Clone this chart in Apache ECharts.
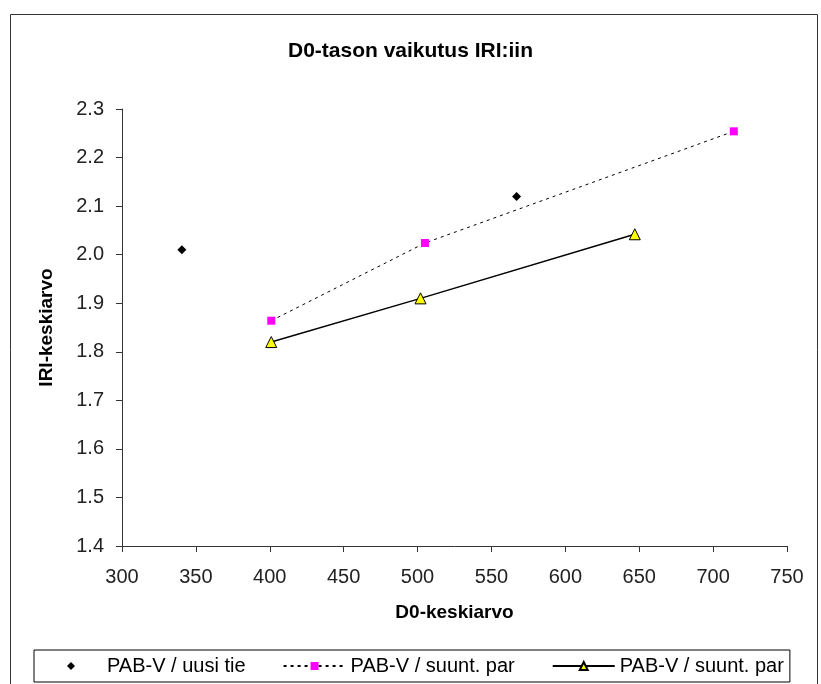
<!DOCTYPE html>
<html>
<head>
<meta charset="utf-8">
<script src="https://cdn.jsdelivr.net/npm/echarts@6/dist/echarts.min.js"></script>
<style>
html,body{margin:0;padding:0;background:#fff;}
#chart{width:821px;height:684px;}
</style>
</head>
<body>
<div id="chart"></div>
<script>
const titleText = 'D0-tason vaikutus IRI:iin';
const xAxisName = 'D0-keskiarvo';
const yAxisName = 'IRI-keskiarvo';
const seriesNames = ['PAB-V / uusi tie', 'PAB-V / suunt. par', 'PAB-V / suunt. par '];
const uusiTie = [[340.5, 2.01], [567, 2.12]];
const suuntPar1 = [[401, 1.864], [505, 2.024], [714, 2.254]];
const suuntPar2 = [[401, 1.82], [502, 1.91], [647, 2.042]];
const xMin = 300, xMax = 750, xStep = 50;
const yMin = 1.4, yMax = 2.3, yStep = 0.1;

const font = 'Liberation Sans, Arial, sans-serif';
const chart = echarts.init(document.getElementById('chart'));
chart.setOption({
  animation: false,
  backgroundColor: '#fff',
  textStyle: { fontFamily: font },
  graphic: [{
    type: 'rect', silent: true,
    shape: { x: 10.5, y: 14.5, width: 807, height: 700 },
    style: { fill: 'none', stroke: '#333', lineWidth: 1 }
  }],
  title: {
    text: titleText, left: 'center', top: 36,
    textStyle: { fontFamily: font, fontSize: 21, fontWeight: 'bold', color: '#000' }
  },
  grid: { left: 122, right: 34, top: 109, bottom: 138, containLabel: false },
  xAxis: {
    type: 'value', min: xMin, max: xMax, interval: xStep,
    name: xAxisName, nameLocation: 'middle', nameGap: 57,
    nameTextStyle: { fontFamily: font, fontSize: 19, fontWeight: 'bold', color: '#000' },
    axisLine: { show: true, lineStyle: { color: '#333', width: 1 } },
    axisTick: { show: true, inside: false, length: 6, lineStyle: { color: '#333' } },
    axisLabel: { fontFamily: font, fontSize: 20, color: '#222', margin: 21 },
    splitLine: { show: false }
  },
  yAxis: {
    type: 'value', min: yMin, max: yMax, interval: yStep,
    name: yAxisName, nameLocation: 'middle', nameGap: 66,
    nameTextStyle: { fontFamily: font, fontSize: 19, fontWeight: 'bold', color: '#000' },
    axisLine: { show: true, lineStyle: { color: '#333', width: 1 } },
    axisTick: { show: true, inside: false, length: 6, lineStyle: { color: '#333' } },
    axisLabel: { fontFamily: font, fontSize: 20, color: '#222', margin: 18,
      formatter: v => v.toFixed(1) },
    splitLine: { show: false }
  },
  legend: {
    left: 34, top: 650,
    padding: [6, 6, 6, 6],
    borderColor: '#000', borderWidth: 1,
    itemWidth: 62, itemHeight: 10, itemGap: 37,
    textStyle: { fontFamily: font, fontSize: 20, color: '#000' },
    formatter: n => n.trim(),
    data: seriesNames
  },
  series: [
    {
      name: seriesNames[0], type: 'line', data: uusiTie,
      symbol: 'diamond', symbolSize: 9,
      itemStyle: { color: '#000' },
      lineStyle: { opacity: 0, width: 0 }
    },
    {
      name: seriesNames[1], type: 'line', data: suuntPar1,
      symbol: 'rect', symbolSize: 8,
      itemStyle: { color: '#ff00ff' },
      lineStyle: { color: '#000', width: 1, type: [3, 4] }
    },
    {
      name: seriesNames[2], type: 'line', data: suuntPar2,
      symbol: 'triangle', symbolSize: 11,
      itemStyle: { color: '#ffff00', borderColor: '#000', borderWidth: 1 },
      lineStyle: { color: '#000', width: 1.5, type: 'solid' }
    }
  ]
});
</script>
</body>
</html>
